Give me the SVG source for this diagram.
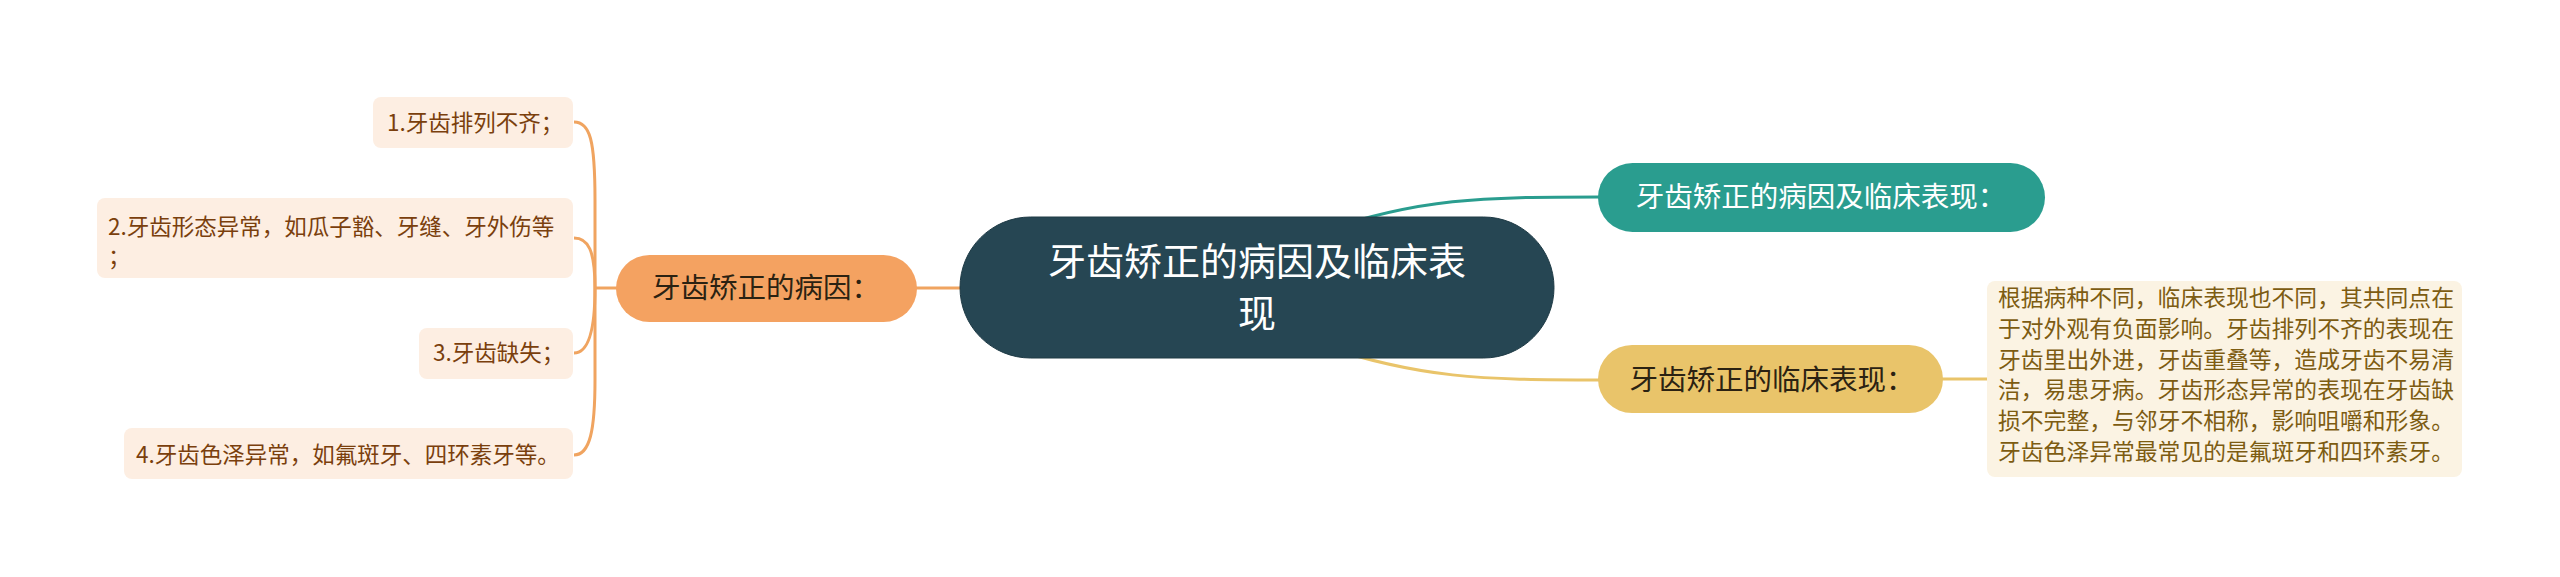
<svg xmlns="http://www.w3.org/2000/svg" width="2560" height="577" viewBox="0 0 2560 577">
<style>
text{font-family:"Noto Sans CJK SC","Noto Sans",sans-serif;}
.c{font-size:38px;fill:#ffffff;text-anchor:middle;}
.m{font-size:28.5px;text-anchor:middle;}
.leafbox{fill:#fdeee2;}
.leaf{font-size:22.5px;fill:#7a3f0d;}
.det{font-size:22.8px;fill:#7d5c12;}
.lo{fill:none;stroke:#f0a460;stroke-width:3;}
.lt{fill:none;stroke:#2a9d8f;stroke-width:3;}
.ly{fill:none;stroke:#e9c46a;stroke-width:3;}
</style>
<rect width="2560" height="577" fill="#ffffff"/>
<g id="connectors">
<path class="lt" d="M1320,232 C1420,198 1480,197 1600,197"/>
<path class="ly" d="M1320,345 C1420,378 1480,380 1600,380"/>
<path class="ly" d="M1940,379 L1990,379"/>
<path class="lo" d="M914,288 L964,288"/>
<path class="lo" d="M595,288 L620,288"/>
<path class="lo" d="M574,122 C590,122 595,140 595,200 L595,288"/>
<path class="lo" d="M574,238 C588,238 595,250 595,288"/>
<path class="lo" d="M574,353 C588,353 595,330 595,288"/>
<path class="lo" d="M574,455 C590,455 595,430 595,380 L595,288"/>
</g>
<g id="center">
<rect x="960" y="217" width="594" height="141" rx="70.5" fill="#264653" stroke="#1e3a45" stroke-width="1"/>
<text class="c" x="1257" y="275">牙齿矫正的病因及临床表</text>
<text class="c" x="1257" y="327">现</text>
</g>
<g id="n-teal">
<rect x="1598" y="163" width="447" height="69" rx="34.5" fill="#2a9d8f"/>
<text class="m" x="1821" y="207" fill="#ffffff">牙齿矫正的病因及临床表现：</text>
</g>
<g id="n-yellow">
<rect x="1598" y="345" width="345" height="68" rx="34" fill="#e9c46a"/>
<text class="m" x="1772" y="390" fill="#2b2212">牙齿矫正的临床表现：</text>
</g>
<g id="n-detail">
<rect x="1987" y="281" width="475" height="196" rx="8" fill="#fbf3e3"/>
<text class="det" x="1998" y="306">根据病种不同，临床表现也不同，其共同点在</text>
<text class="det" x="1998" y="337">于对外观有负面影响。牙齿排列不齐的表现在</text>
<text class="det" x="1998" y="368">牙齿里出外进，牙齿重叠等，造成牙齿不易清</text>
<text class="det" x="1998" y="398">洁，易患牙病。牙齿形态异常的表现在牙齿缺</text>
<text class="det" x="1998" y="429">损不完整，与邻牙不相称，影响咀嚼和形象。</text>
<text class="det" x="1998" y="460">牙齿色泽异常最常见的是氟斑牙和四环素牙。</text>
</g>
<g id="n-orange">
<rect x="616" y="255" width="301" height="67" rx="33.5" fill="#f4a261"/>
<text class="m" x="766" y="298" fill="#2b2212">牙齿矫正的病因：</text>
</g>
<g id="leaf1">
<rect class="leafbox" x="373" y="97" width="200" height="51" rx="8"/>
<text class="leaf" x="387" y="131">1.牙齿排列不齐；</text>
</g>
<g id="leaf2">
<rect class="leafbox" x="97" y="198" width="476" height="80" rx="8"/>
<text class="leaf" x="108" y="235">2.牙齿形态异常，如瓜子豁、牙缝、牙外伤等</text>
<text class="leaf" x="108" y="265">；</text>
</g>
<g id="leaf3">
<rect class="leafbox" x="419" y="328" width="154" height="51" rx="8"/>
<text class="leaf" x="433" y="361">3.牙齿缺失；</text>
</g>
<g id="leaf4">
<rect class="leafbox" x="124" y="428" width="449" height="51" rx="8"/>
<text class="leaf" x="136" y="463">4.牙齿色泽异常，如氟斑牙、四环素牙等。</text>
</g>
</svg>
